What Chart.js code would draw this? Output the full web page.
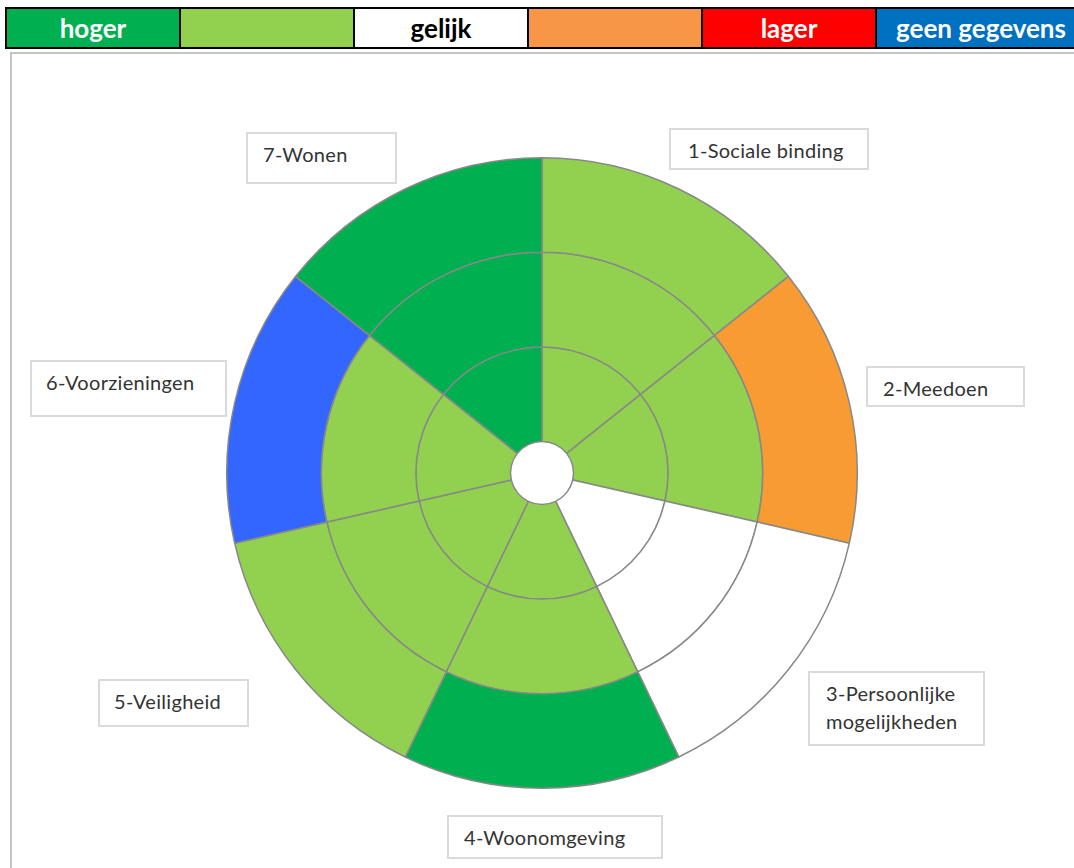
<!DOCTYPE html>
<html>
<head>
<meta charset="utf-8">
<script src="https://cdn.jsdelivr.net/npm/chart.js@4.4.0/dist/chart.umd.min.js"></script>
<style>
    body { margin: 0; width: 1074px; height: 868px; overflow: hidden; background: #fff; position: relative; }
    #legendBar { position: absolute; left: 5px; top: 7px; height: 42px; display: flex; border: 2px solid #000; box-sizing: border-box; }
    #legendBar div { height: 100%; box-sizing: border-box; border-right: 2px solid #000; font-family: Lato, "Open Sans", sans-serif; font-weight: bold; font-size: 26px; line-height: 38px; text-align: center; color: #fff; white-space: nowrap; }
    #frame { position: absolute; left: 10px; top: 52px; width: 1100px; height: 900px; border: 2px solid #c4c4c4; }
    #chartWrap { position: absolute; left: 0; top: 0; width: 1074px; height: 868px; }
    .lbl { position: absolute; box-sizing: border-box; background: #fff; border: 2px solid #dadada; font-family: Lato, "Open Sans", sans-serif; font-size: 20px; color: #333; letter-spacing: 0.3px; line-height: 28px; padding-top: 6px; white-space: nowrap; }
</style>
</head>
<body>
<div id="legendBar"></div>
<div id="frame"></div>
<div id="chartWrap"><canvas id="wheel" width="1074" height="868"></canvas></div>

<script>
// thema's (met de klok mee, beginnend bovenaan)
var categories = ['1-Sociale binding', '2-Meedoen', '3-Persoonlijke\nmogelijkheden', '4-Woonomgeving', '5-Veiligheid', '6-Voorzieningen', '7-Wonen'];
var sectorValues = [1, 1, 1, 1, 1, 1, 1];

// score per ring (buiten -> binnen)
var outerRing = ['iets hoger', 'iets lager', 'gelijk', 'hoger', 'iets hoger', 'geen gegevens', 'hoger'];
var middleRing = ['iets hoger', 'iets hoger', 'gelijk', 'iets hoger', 'iets hoger', 'iets hoger', 'hoger'];
var innerRing = ['iets hoger', 'iets hoger', 'gelijk', 'iets hoger', 'iets hoger', 'iets hoger', 'hoger'];

// legenda
var legendKeys = ['hoger', 'iets hoger', 'gelijk', 'iets lager', 'lager', 'geen gegevens'];
var legendTexts = ['hoger', '', 'gelijk', '', 'lager', 'geen gegevens'];

var legendColors = {
    'hoger': '#00B050', 'iets hoger': '#92D050', 'gelijk': '#FFFFFF',
    'iets lager': '#F79646', 'lager': '#FF0000', 'geen gegevens': '#0070C0'
};
var wheelColors = {
    'hoger': '#00B050', 'iets hoger': '#92D050', 'gelijk': '#FFFFFF',
    'iets lager': '#F99B33', 'lager': '#FF0000', 'geen gegevens': '#3366FF'
};

// label boxes (layout only)
var labelBoxes = [
    { left: 669, top: 128, width: 200, height: 42, pad: 17 },
    { left: 866, top: 366, width: 159, height: 41, pad: 15 },
    { left: 808, top: 671, width: 177, height: 75, pad: 16 },
    { left: 447, top: 815, width: 216, height: 44, pad: 15 },
    { left: 98, top: 679, width: 151, height: 48, pad: 14 },
    { left: 30, top: 360, width: 197, height: 57, pad: 14 },
    { left: 246, top: 132, width: 151, height: 52, pad: 15 }
];

// legend bar
var bar = document.getElementById('legendBar');
legendKeys.forEach(function (k, i) {
    var d = document.createElement('div');
    d.style.background = legendColors[k];
    d.style.width = (i == legendKeys.length - 1 ? 210 : 174) + 'px';
    if (k == 'gelijk') d.style.color = '#000';
    d.textContent = legendTexts[i];
    bar.appendChild(d);
});

// labels
categories.forEach(function (c, i) {
    var b = labelBoxes[i];
    var d = document.createElement('div');
    d.className = 'lbl';
    d.style.left = b.left + 'px';
    d.style.top = b.top + 'px';
    d.style.width = b.width + 'px';
    d.style.height = b.height + 'px';
    d.style.paddingLeft = b.pad + 'px';
    d.innerHTML = c.split('\n').join('<br>');
    document.body.appendChild(d);
});

function ringColors(ring) {
    return ring.map(function (s) { return wheelColors[s]; });
}

var ctx = document.getElementById('wheel');
var chart = new Chart(ctx, {
    type: 'doughnut',
    data: {
        labels: categories,
        datasets: [
            { data: sectorValues, backgroundColor: ringColors(outerRing), borderColor: '#888888', borderWidth: 1.5 },
            { data: sectorValues, backgroundColor: ringColors(middleRing), borderColor: '#888888', borderWidth: 1.5 },
            { data: sectorValues, backgroundColor: ringColors(innerRing), borderColor: '#888888', borderWidth: 1.5 }
        ]
    },
    options: {
        responsive: false,
        animation: false,
        cutout: '10%',
        layout: { padding: { left: 226, top: 157, right: 216, bottom: 79 } },
        plugins: {
            legend: { display: false },
            tooltip: { enabled: false }
        }
    }
});
</script>
</body>
</html>
